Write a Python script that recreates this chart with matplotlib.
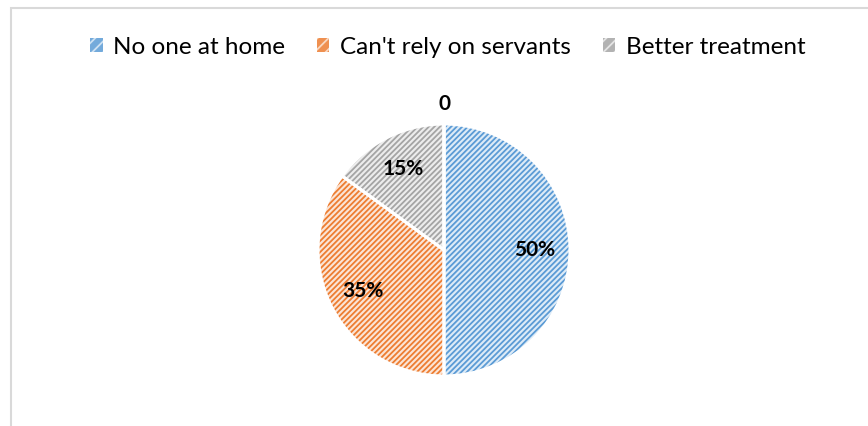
import matplotlib
matplotlib.use("Agg")
import matplotlib.pyplot as plt
from matplotlib.patches import Patch, Rectangle
import numpy as np

labels = ["No one at home", "Can't rely on servants", "Better treatment", ""]
values = [50, 35, 15, 0]
value_text = ["50%", "35%", "15%", "0"]
fills = ["#DDEBF7", "#FBE5D6", "#EDEDED", "#DDEBF7"]
lines = ["#5B9BD5", "#ED7D31", "#A5A5A5", "#5B9BD5"]

plt.rcParams["font.family"] = ["Lato", "DejaVu Sans"]
plt.rcParams["hatch.linewidth"] = 1.3

W, H = 868, 426
fig = plt.figure(figsize=(W / 100, H / 100), dpi=100)

# chart area outline (runs off the right and bottom edges)
fig.patches.append(Rectangle((11 / W, -0.1), 1.2, 1 + 0.1 - 8 / H,
                             transform=fig.transFigure, fill=False,
                             edgecolor="#D9D9D9", lw=1.5))

cx, cy, r = 444, 250, 126
ax = fig.add_axes([(cx - r) / W, (H - cy - r) / H, 2 * r / W, 2 * r / H])

hatch = "//////"
wedges, _ = ax.pie(values, startangle=90, counterclock=False, radius=1,
                   colors=fills, wedgeprops=dict(linewidth=0))
for w, c in zip(wedges, lines):
    w.set_hatch(hatch)
    w.set_edgecolor(c)
# white separators drawn on top
outl, _ = ax.pie(values, startangle=90, counterclock=False, radius=1,
                 colors=["none"] * 4, wedgeprops=dict(linewidth=2.2, edgecolor="white"))

for w, v, t in zip(wedges, values, value_text):
    mid = np.deg2rad((w.theta1 + w.theta2) / 2)
    d = 0.72 if v > 0 else 1.16
    ax.text(d * np.cos(mid), d * np.sin(mid), t, ha="center", va="center",
            fontsize=15, fontweight="bold", color="black")

ax.set_xlim(-1, 1)
ax.set_ylim(-1, 1)
ax.axis("off")

handles = [Patch(facecolor=lines[i], edgecolor=fills[i], hatch="///", lw=0, alpha=0.85)
           for i in range(3)]
fig.legend(handles, labels[:3], loc="center", bbox_to_anchor=(0.516, 1 - 47 / H),
           ncol=3, frameon=False, fontsize=17.5, handlelength=0.5, handleheight=0.5,
           handletextpad=0.45, columnspacing=1.3)

fig.savefig("out.png", dpi=100)
